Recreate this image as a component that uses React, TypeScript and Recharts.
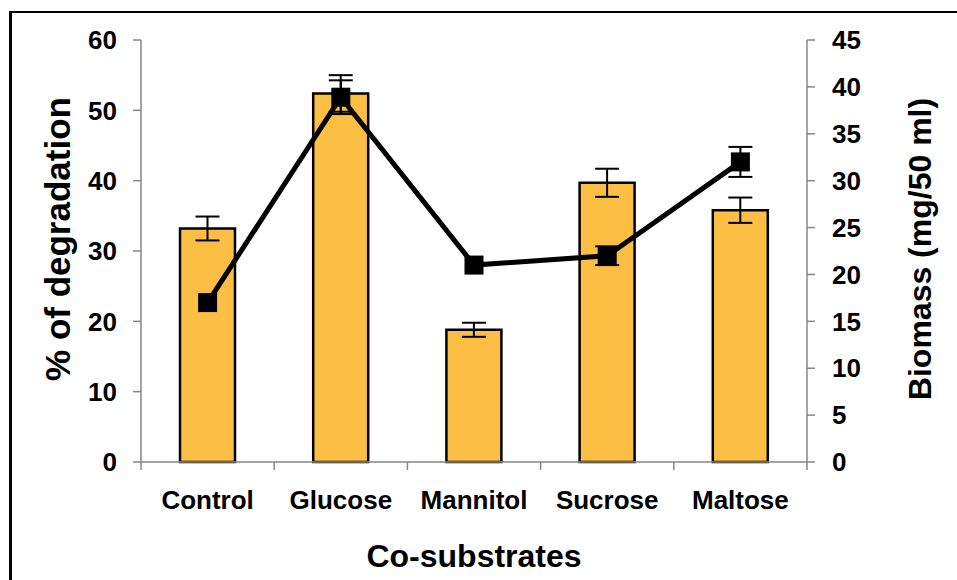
import React from 'react';
import { ComposedChart, Bar, Line, XAxis, YAxis, ErrorBar, Label } from 'recharts';

const categories = ['Control', 'Glucose', 'Mannitol', 'Sucrose', 'Maltose'];
const degradation = [33.2, 52.4, 18.8, 39.7, 35.8];
const degradationErr = [1.7, 2.6, 1.0, 2.0, 1.8];
const biomass = [17.0, 38.9, 21.0, 22.0, 32.0];
const biomassErr = [null, 1.8, null, 1.0, 1.6];
const leftTicks = [0, 10, 20, 30, 40, 50, 60];
const rightTicks = [0, 5, 10, 15, 20, 25, 30, 35, 40, 45];

const data = categories.map((name, i) => ({
  name,
  deg: degradation[i],
  degErr: degradationErr[i],
  bio: biomass[i],
  bioErr: biomassErr[i],
}));

const FONT = '"Liberation Sans", Arial, sans-serif';
const AXIS_GREY = '#868686';
const LABEL_GAP = 29;
const tickStyle = { fill: '#000', fontSize: 26, fontWeight: 700, fontFamily: FONT };

// category label + tick marks on the category edges (Excel style)
const CategoryTick = (props: any) => {
  const { x, y, width, visibleTicksCount, index, payload } = props;
  const half = width / visibleTicksCount / 2;
  const axisY = y - LABEL_GAP;
  return (
    <g>
      <line x1={x - half} x2={x - half} y1={axisY} y2={axisY + 8} stroke={AXIS_GREY} strokeWidth={1.5} />
      {index === visibleTicksCount - 1 && (
        <line x1={x + half} x2={x + half} y1={axisY} y2={axisY + 8} stroke={AXIS_GREY} strokeWidth={1.5} />
      )}
      <text x={x} y={y} dy="0.71em" textAnchor="middle" {...tickStyle}>
        {payload.value}
      </text>
    </g>
  );
};

// rotated axis title, placed relative to the axis box
const VTitle = (props: any) => {
  const { viewBox, text, dx, cy, size } = props;
  const x = viewBox.x + dx;
  const y = cy;
  return (
    <text
      x={x}
      y={y}
      transform={`rotate(-90, ${x}, ${y})`}
      textAnchor="middle"
      fontFamily={FONT}
      fontWeight={700}
      fontSize={size}
      fill="#000"
    >
      {text}
    </text>
  );
};

const XTitle = (props: any) => {
  const { viewBox } = props;
  return (
    <text
      x={viewBox.x + viewBox.width / 2}
      y={567}
      textAnchor="middle"
      fontFamily={FONT}
      fontWeight={700}
      fontSize={32}
      fill="#000"
    >
      Co-substrates
    </text>
  );
};

const SquareDot = (props: any) => {
  const { cx, cy, index } = props;
  return <rect key={`sq-${index}`} x={cx - 9.5} y={cy - 9.5} width={19} height={19} fill="#000" />;
};

const App: React.FC = () => {
  return (
    <div style={{ position: 'absolute', left: 0, top: 0, width: 957, height: 580, overflow: 'hidden', background: '#fff' }}>
      <div
        style={{
          position: 'absolute',
          left: 9,
          top: 11,
          width: 1200,
          height: 1000,
          borderLeft: '3px solid #000',
          borderTop: '2px solid #000',
        }}
      />
      <div style={{ position: 'absolute', left: 0, top: 0 }}>
        <ComposedChart
          width={957}
          height={580}
          data={data}
          margin={{ top: 40, right: 90, bottom: 88, left: 81 }}
        >
          <XAxis
            dataKey="name"
            height={30}
            stroke={AXIS_GREY}
            strokeWidth={1.5}
            tickLine={false}
            tickSize={0}
            tickMargin={LABEL_GAP}
            tick={<CategoryTick />}
            interval={0}
          >
            <Label content={<XTitle />} />
          </XAxis>
          <YAxis
            yAxisId="left"
            width={60}
            domain={[0, 60]}
            ticks={leftTicks}
            interval={0}
            stroke={AXIS_GREY}
            strokeWidth={1.5}
            tickSize={8}
            tickMargin={16}
            tick={tickStyle}
          >
            <Label content={<VTitle text="% of degradation" dx={-11} cy={239} size={35} />} />
          </YAxis>
          <YAxis
            yAxisId="right"
            orientation="right"
            width={60}
            domain={[0, 45]}
            ticks={rightTicks}
            interval={0}
            stroke={AXIS_GREY}
            strokeWidth={1.5}
            tickSize={8}
            tickMargin={17}
            tick={tickStyle}
          >
            <Label content={<VTitle text="Biomass (mg/50 ml)" dx={124} cy={249} size={32} />} />
          </YAxis>
          <Bar
            yAxisId="left"
            dataKey="deg"
            barSize={55}
            fill="#FDBF43"
            stroke="#000"
            strokeWidth={2.5}
            isAnimationActive={false}
          >
            <ErrorBar dataKey="degErr" width={12} strokeWidth={2} stroke="#000" />
          </Bar>
          <Line
            yAxisId="right"
            dataKey="bio"
            stroke="#000"
            strokeWidth={5}
            dot={SquareDot}
            activeDot={false}
            isAnimationActive={false}
          >
            <ErrorBar dataKey="bioErr" width={12} strokeWidth={2} stroke="#000" />
          </Line>
        </ComposedChart>
      </div>
    </div>
  );
};

export default App;
